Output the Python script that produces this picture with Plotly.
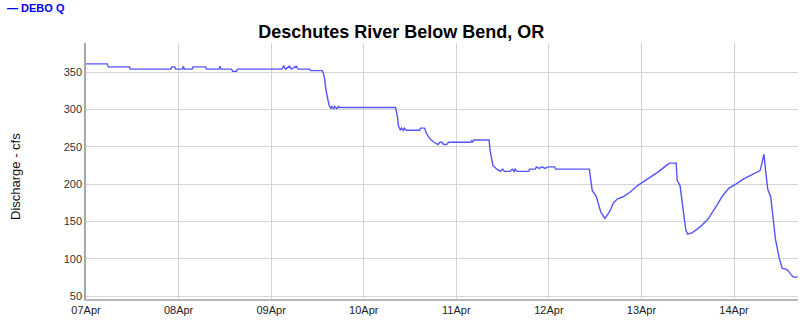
import plotly.graph_objects as go

# ---- data ----
times = [
    "2024-04-07 00:00", "2024-04-07 05:30", "2024-04-07 05:45", "2024-04-07 11:15", "2024-04-07 11:30",
    "2024-04-07 22:00", "2024-04-07 22:15", "2024-04-07 23:00", "2024-04-07 23:15",
    "2024-04-08 01:00", "2024-04-08 01:15", "2024-04-08 01:30", "2024-04-08 03:30", "2024-04-08 03:45",
    "2024-04-08 07:00", "2024-04-08 07:15", "2024-04-08 10:30", "2024-04-08 10:45", "2024-04-08 11:00",
    "2024-04-08 13:45", "2024-04-08 14:00", "2024-04-08 15:00", "2024-04-08 15:15",
    "2024-04-09 02:45", "2024-04-09 03:15", "2024-04-09 03:45", "2024-04-09 04:45", "2024-04-09 05:15",
    "2024-04-09 06:30", "2024-04-09 07:00", "2024-04-09 10:00", "2024-04-09 10:15", "2024-04-09 13:15",
    "2024-04-09 13:45", "2024-04-09 14:15", "2024-04-09 15:00", "2024-04-09 15:30", "2024-04-09 15:45",
    "2024-04-09 16:15", "2024-04-09 16:30", "2024-04-09 17:00", "2024-04-09 17:30", "2024-04-09 17:45",
    "2024-04-10 08:15", "2024-04-10 08:45", "2024-04-10 09:00", "2024-04-10 09:30", "2024-04-10 09:45",
    "2024-04-10 10:15", "2024-04-10 10:30", "2024-04-10 11:00", "2024-04-10 11:15", "2024-04-10 14:30",
    "2024-04-10 14:45", "2024-04-10 15:45", "2024-04-10 16:15", "2024-04-10 17:15", "2024-04-10 18:15",
    "2024-04-10 19:15", "2024-04-10 19:45", "2024-04-10 20:15", "2024-04-10 20:45", "2024-04-10 21:30",
    "2024-04-10 22:00", "2024-04-11 03:45", "2024-04-11 04:00", "2024-04-11 04:15", "2024-04-11 04:30",
    "2024-04-11 08:30", "2024-04-11 08:45", "2024-04-11 09:30", "2024-04-11 10:30", "2024-04-11 11:30",
    "2024-04-11 12:00", "2024-04-11 12:30", "2024-04-11 14:00", "2024-04-11 14:30", "2024-04-11 15:00",
    "2024-04-11 15:15", "2024-04-11 15:45", "2024-04-11 18:45", "2024-04-11 19:00", "2024-04-11 20:30",
    "2024-04-11 20:45", "2024-04-11 21:30", "2024-04-11 22:15", "2024-04-11 23:00", "2024-04-11 23:45",
    "2024-04-12 01:30", "2024-04-12 01:45", "2024-04-12 10:30", "2024-04-12 11:00", "2024-04-12 11:15",
    "2024-04-12 12:15", "2024-04-12 12:45", "2024-04-12 13:30", "2024-04-12 14:30", "2024-04-12 15:00",
    "2024-04-12 15:45", "2024-04-12 16:45", "2024-04-12 17:45", "2024-04-12 19:15", "2024-04-12 21:00",
    "2024-04-12 23:00", "2024-04-13 01:45", "2024-04-13 04:15", "2024-04-13 06:30", "2024-04-13 07:15",
    "2024-04-13 09:00", "2024-04-13 09:15", "2024-04-13 10:00", "2024-04-13 10:45", "2024-04-13 11:30",
    "2024-04-13 12:00", "2024-04-13 13:15", "2024-04-13 15:30", "2024-04-13 17:15", "2024-04-13 19:30",
    "2024-04-13 21:00", "2024-04-13 22:45", "2024-04-14 00:30", "2024-04-14 02:30", "2024-04-14 04:00",
    "2024-04-14 06:45", "2024-04-14 07:15", "2024-04-14 07:45", "2024-04-14 08:15", "2024-04-14 08:45",
    "2024-04-14 09:30", "2024-04-14 10:00", "2024-04-14 10:45", "2024-04-14 11:45", "2024-04-14 12:30",
    "2024-04-14 13:30", "2024-04-14 14:00", "2024-04-14 14:45", "2024-04-14 15:15", "2024-04-14 15:45",
    "2024-04-14 16:30",
]
discharge = [
    361, 361, 357, 357, 354,
    354, 357, 357, 354,
    354, 358, 354, 354, 357,
    357, 354, 354, 358, 354,
    354, 351, 351, 354,
    354, 358, 354, 358, 354,
    358, 354, 354, 352, 352,
    345, 325, 306, 301, 304,
    301, 304, 301, 304, 302.5,
    302.5, 290, 278, 272, 275,
    272, 275, 272, 272, 272,
    275, 275, 268, 260, 256,
    253, 256, 256, 253, 253,
    256, 256, 258, 256, 259,
    259, 245, 225, 220, 217,
    220, 217, 217, 220, 217,
    220, 217, 217, 220, 220,
    223, 221, 223, 221, 223,
    223, 220, 220, 200, 191,
    184, 176, 162, 154, 157,
    163, 175, 180, 183, 189,
    198, 207, 216, 225, 228,
    228, 205, 198, 165, 138,
    133, 135, 144, 153, 171,
    184, 195, 200, 207, 211,
    218, 228, 240, 215, 193,
    183, 160, 126, 100, 87,
    86, 84, 79, 76, 75,
    76,
]
series_name = "DEBO Q"
chart_title = "Deschutes River Below Bend, OR"
y_title = "Discharge - cfs"
y_ticks = [50, 100, 150, 200, 250, 300, 350]
x_range = ["2024-04-07 00:00", "2024-04-14 16:35"]
y_range = [46, 389]

FONT = "Liberation Sans, Arial, sans-serif"

fig = go.Figure()
fig.add_trace(go.Scatter(
    x=times, y=discharge, mode="lines", name=series_name,
    line=dict(color="rgb(85,85,255)", width=1.4),
    showlegend=False,
))

fig.update_layout(
    width=809, height=333,
    margin=dict(l=86, r=11, t=43, b=34),
    paper_bgcolor="white", plot_bgcolor="white",
    font=dict(family=FONT, size=11, color="#333"),
    title=dict(text=chart_title, x=0.496, xref="container", xanchor="center",
               y=1 - 31.5 / 333, yref="container", yanchor="middle",
               font=dict(family=FONT, size=18, color="black", weight="bold")),
    xaxis=dict(
        type="date", range=x_range, dtick=86400000, tick0="2024-04-07",
        tickformat="%d%b", showgrid=True, gridcolor="#d4d4d4", gridwidth=1,
        showline=True, linecolor="#b8b8b8", linewidth=1.5, zeroline=False,
        ticks="", tickfont=dict(family=FONT, size=11, color="#222"),
    ),
    yaxis=dict(
        range=y_range, tickvals=y_ticks, showgrid=True, gridcolor="#d4d4d4",
        gridwidth=1, showline=True, linecolor="#a8a8a8", linewidth=1.5,
        zeroline=False, ticks="", tickfont=dict(family=FONT, size=11, color="#333"),
    ),
    annotations=[
        dict(text=y_title, xref="paper", yref="paper", x=(15 - 86) / 712,
             y=(299 - 177) / 256, textangle=-90, showarrow=False,
             xanchor="center", yanchor="middle",
             font=dict(family=FONT, size=13, color="#111")),
        dict(text="\u2014 " + series_name, xref="paper", yref="paper",
             x=(5 - 86) / 712, y=(299 - 8) / 256, showarrow=False,
             xanchor="left", yanchor="middle",
             font=dict(family=FONT, size=11, color="#0000ee", weight="bold")),
    ],
)

fig.write_html("out.html")
